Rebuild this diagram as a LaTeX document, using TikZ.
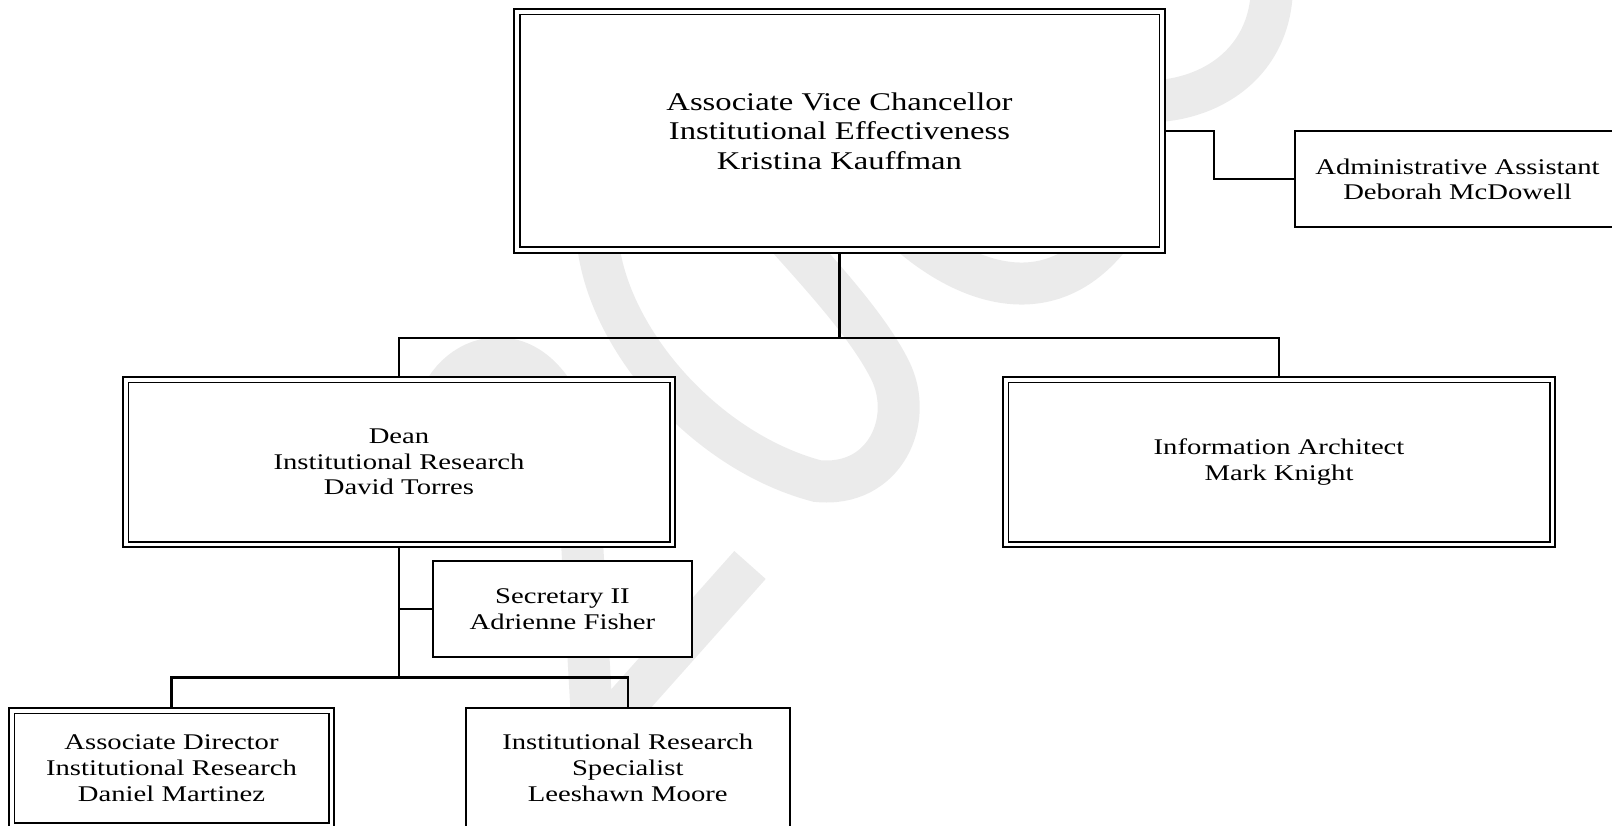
\documentclass[tikz,border=0pt]{standalone}
\usepackage{fontspec}
\setmainfont{Liberation Serif}[FakeStretch=1.28]
\definecolor{wmgray}{HTML}{EBEBEB}
\begin{document}
\begin{tikzpicture}[x=1pt,y=-1pt,
  box/.style={draw, line width=1.9pt, fill=white, inner sep=0pt, outer sep=0.95pt,
    align=center, font=\fontsize{22.4}{25.7}\selectfont},
  dbox/.style={box, double, double distance=3.6pt, outer sep=3.7pt},
  conn/.style={line width=2.2pt},
  wm/.style={draw=wmgray, line width=42pt}]
\useasboundingbox (0,0) rectangle (1612,826);
\clip (0,0) rectangle (1612,826);
% watermark
\draw[wm] (1100,95) .. controls (1180,118) and (1270,80) .. (1272,-12);
\draw[wm] (905,230) .. controls (960,280) and (1050,320) .. (1115,230);
\draw[wm] (597,230) .. controls (600,330) and (700,450) .. (817,481)
  .. controls (885,488) and (915,420) .. (890,370)
  .. controls (870,330) and (830,285) .. (785,235);
\draw[wm] (440,400) .. controls (465,340) and (560,330) .. (578,470) -- (592,720);
\draw[wm] (750,565) -- (612,720);
% boxes
\node[dbox, minimum width=645.4pt, minimum height=238.4pt,
  font=\fontsize{25.5}{29.3}\selectfont] (top) at (839.5,131)
  {Associate Vice Chancellor\\Institutional Effectiveness\\Kristina Kauffman};
\node[box, minimum width=325.1pt, minimum height=95.6pt] (admin) at (1457.5,179.25)
  {Administrative Assistant\\Deborah McDowell};
\node[dbox, minimum width=546.6pt, minimum height=164.6pt] (dean) at (399,462)
  {Dean\\Institutional Research\\David Torres};
\node[dbox, minimum width=546.6pt, minimum height=164.6pt] (info) at (1279,462)
  {Information Architect\\Mark Knight};
\node[box, minimum width=259.1pt, minimum height=96.1pt] (sec) at (562.5,609)
  {Secretary II\\Adrienne Fisher};
\node[dbox, minimum width=319.6pt, minimum height=114.6pt] (assoc) at (171.5,768)
  {Associate Director\\Institutional Research\\Daniel Martinez};
\node[box, minimum width=323.6pt, minimum height=120.1pt] (ir) at (627.75,768)
  {Institutional Research\\Specialist\\Leeshawn Moore};
% connectors
\coordinate (a1) at (1214,179.25);
\coordinate (j1) at (839.5,338);
\coordinate (j2) at (399,677.5);
\draw[conn] (top.east) -| (a1) -- (admin.west);
\draw[conn] (top.south) -- (j1);
\draw[conn] (dean.north) -- (dean.north |- j1) -- (info.north |- j1) -- (info.north);
\draw[conn] (dean.south) -- (j2);
\draw[conn] (dean.south |- sec.west) -- (sec.west);
\draw[conn] (assoc.north) |- (j2) -| (ir.north);
\end{tikzpicture}
\end{document}
